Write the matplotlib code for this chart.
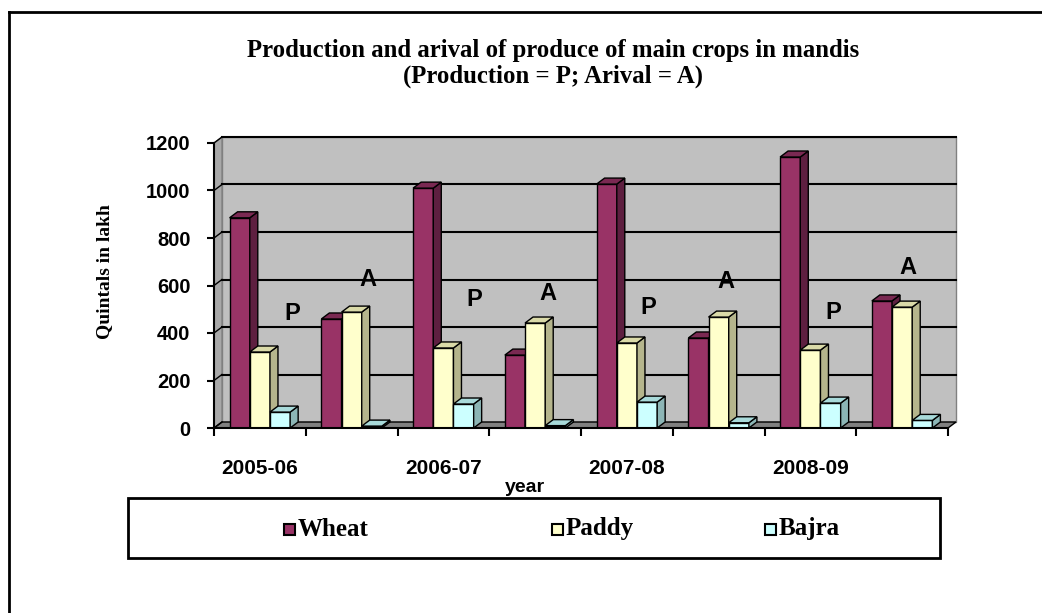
import matplotlib
matplotlib.use("Agg")
import matplotlib.pyplot as plt
from matplotlib.patches import Polygon, Rectangle
from matplotlib.lines import Line2D
import numpy as np

# data (quintals in lakh)
years = ['2005-06', '2006-07', '2007-08', '2008-09']
crops = ['Wheat', 'Paddy', 'Bajra']
wheat_p = [885, 1010, 1027, 1141]
wheat_a = [459, 307, 379, 535]
paddy_p = [320, 337, 358, 328]
paddy_a = [488, 442, 467, 509]
bajra_p = [67, 101, 109, 105]
bajra_a = [8, 10, 22, 32]

# P / A tags (x in category units, y in data units)
tags = ['P', 'A', 'P', 'A', 'P', 'A', 'P', 'A']
tag_x = [0.85, 1.68, 2.84, 3.64, 4.73, 5.58, 6.75, 7.56]
tag_y = [484, 627, 539, 568, 509, 615, 488, 674]

face = ['#993366', '#FFFFCC', '#CCFFFF']
side = ['#5E1F40', '#B5B58C', '#8CB5B5']
top = ['#7A2952', '#DADAA8', '#A8DADA']

W, H = 1042, 613
fig = plt.figure(figsize=(W / 100, H / 100), dpi=100)

left, right, bot, topy = 214, 948, 428, 143
ax = fig.add_axes([left / W, 1 - bot / H, (right - left) / W, (bot - topy) / H])
ncat = 8
ymax = 1200
ax.set_xlim(0, ncat)
ax.set_ylim(0, ymax)
ax.patch.set_visible(False)

# depth of the 3d effect in data units
dpx, dpy = 8, 6
dX = dpx * ncat / (right - left)
dY = dpy * ymax / (bot - topy)

# walls
ax.add_patch(Polygon([(dX, dY), (ncat + dX, dY), (ncat + dX, ymax + dY), (dX, ymax + dY)],
                     closed=True, fc='#C0C0C0', ec='#808080', lw=1, zorder=0, clip_on=False))
ax.add_patch(Polygon([(0, 0), (dX, dY), (dX, ymax + dY), (0, ymax)],
                     closed=True, fc='#A8A8A8', ec='#808080', lw=1, zorder=0, clip_on=False))
ax.add_patch(Polygon([(0, 0), (ncat, 0), (ncat + dX, dY), (dX, dY)],
                     closed=True, fc='#808080', ec='black', lw=1, zorder=0.5, clip_on=False))
for v in range(200, ymax + 1, 200):
    ax.plot([dX, ncat + dX], [v + dY, v + dY], color='black', lw=1.5, zorder=0.6, clip_on=False)
for v in range(0, ymax + 1, 200):
    ax.plot([0, dX], [v, v + dY], color='black', lw=1, zorder=0.6, clip_on=False)

# bars
bw = 0.22
z = 2
for i in range(len(years)):
    groups = [(2 * i, [wheat_p[i], paddy_p[i], bajra_p[i]]),
              (2 * i + 1, [wheat_a[i], paddy_a[i], bajra_a[i]])]
    for cat, vals in groups:
        c = cat + 0.5
        for k, h in enumerate(vals):
            x = c + (k - 1) * bw
            x0, x1 = x - bw / 2, x + bw / 2
            ax.bar(x, h, bw, color=face[k], edgecolor='black', lw=1, zorder=z)
            ax.add_patch(Polygon([(x1, 0), (x1 + dX, dY), (x1 + dX, h + dY), (x1, h)],
                                 closed=True, fc=side[k], ec='black', lw=1, zorder=z, clip_on=False))
            ax.add_patch(Polygon([(x0, h), (x0 + dX, h + dY), (x1 + dX, h + dY), (x1, h)],
                                 closed=True, fc=top[k], ec='black', lw=1, zorder=z, clip_on=False))
            z += 1

for t, x, y in zip(tags, tag_x, tag_y):
    ax.text(x, y, t, ha='center', va='center', fontsize=17, fontweight='bold',
            family='Liberation Sans', zorder=50)

# axes
for s in ['top', 'right']:
    ax.spines[s].set_visible(False)
for s in ['left', 'bottom']:
    ax.spines[s].set_color('black')
    ax.spines[s].set_linewidth(1.5)
    ax.spines[s].set_zorder(40)
ax.set_yticks(range(0, ymax + 1, 200))
ax.tick_params(axis='y', length=5, width=1.5, pad=12, labelsize=14.5)
ax.set_xticks(np.arange(0, ncat + 1))
ax.set_xticklabels([])
ax.tick_params(axis='x', which='major', length=6, width=1.5)
ax.set_xticks(np.arange(0.5, ncat, 2), minor=True)
ax.set_xticklabels(years, minor=True)
ax.tick_params(axis='x', which='minor', length=0, pad=22, labelsize=15)
for lab in ax.get_yticklabels() + ax.get_xticklabels(minor=True):
    lab.set_fontweight('bold')
    lab.set_family('Liberation Sans')

fig.text(525 / W, 1 - 488 / H, 'year', ha='center', va='center', fontsize=14,
         fontweight='bold', family='Liberation Sans')
fig.text(105 / W, 1 - 272 / H, 'Quintals in lakh', ha='center', va='center', rotation=90,
         fontsize=14, fontweight='bold', family='Liberation Serif')
fig.text(553 / W, 1 - 50 / H, 'Production and arival of produce of main crops in mandis',
         ha='center', va='center', fontsize=17.8, fontweight='bold', family='Liberation Serif')
fig.text(553 / W, 1 - 76 / H, '(Production = P; Arival = A)',
         ha='center', va='center', fontsize=17.8, fontweight='bold', family='Liberation Serif')

# legend box
fig.add_artist(Rectangle((128 / W, 1 - 558 / H), (940 - 128) / W, 60 / H,
                         transform=fig.transFigure, fill=False, ec='black', lw=2))
leg_x = [284, 552, 765]
for name, lx, fc in zip(crops, leg_x, face):
    fig.add_artist(Rectangle((lx / W, 1 - 535 / H), 11 / W, 11 / H, transform=fig.transFigure,
                             fc=fc, ec='black', lw=1.5))
    fig.text((lx + 14) / W, 1 - 529 / H, name, ha='left', va='center', fontsize=18,
             fontweight='bold', family='Liberation Serif')

# outer frame
fig.add_artist(Line2D([9 / W, 1], [1 - 12 / H, 1 - 12 / H], transform=fig.transFigure,
                      color='black', lw=2))
fig.add_artist(Line2D([9 / W, 9 / W], [0, 1 - 12 / H], transform=fig.transFigure,
                      color='black', lw=2))

fig.savefig('out.png', dpi=100)
